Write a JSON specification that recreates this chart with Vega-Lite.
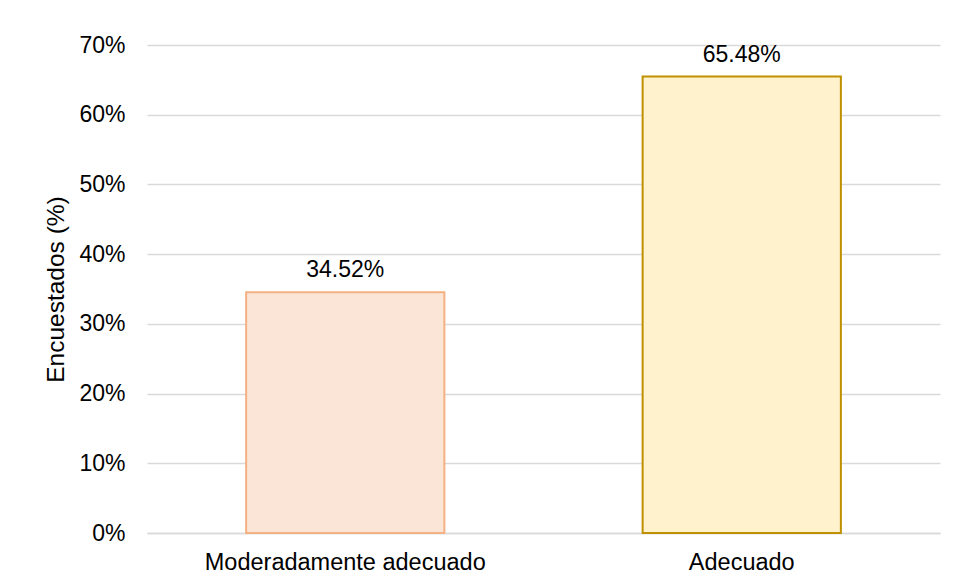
{
  "$schema": "https://vega.github.io/schema/vega-lite/v6.json",
  "autosize": {"type": "none"},
  "width": 793,
  "height": 488,
  "padding": {"left": 147, "top": 45, "right": 15, "bottom": 50},
  "background": "white",
  "config": {
    "font": "Liberation Sans",
    "view": {"stroke": null}
  },
  "data": {
    "values": [
      {"categoria": "Moderadamente adecuado", "valor": 0.3452, "fill": "#FBE5D6", "stroke": "#F4B183"},
      {"categoria": "Adecuado", "valor": 0.6548, "fill": "#FFF2CC", "stroke": "#BF9000"}
    ]
  },
  "encoding": {
    "x": {
      "field": "categoria",
      "type": "nominal",
      "sort": null,
      "scale": {"paddingInner": 0.5, "paddingOuter": 0.25},
      "axis": {
        "title": null,
        "labelAngle": 0,
        "labelFontSize": 23.5,
        "labelColor": "#000000",
        "labelPadding": 17,
        "labelLimit": 500,
        "ticks": false,
        "domainColor": "#D9D9D9",
        "domainWidth": 1.5
      }
    },
    "y": {
      "field": "valor",
      "type": "quantitative",
      "scale": {"domain": [0, 0.7], "nice": false},
      "axis": {
        "title": "Encuestados (%)",
        "titleFontSize": 24.5,
        "titleFontWeight": "normal",
        "titleColor": "#000000",
        "titlePadding": 10,
        "format": ".0%",
        "values": [0, 0.1, 0.2, 0.3, 0.4, 0.5, 0.6, 0.7],
        "labelFontSize": 23,
        "labelColor": "#000000",
        "labelPadding": 22,
        "ticks": false,
        "domain": false,
        "gridColor": "#D9D9D9",
        "gridWidth": 1.5
      }
    }
  },
  "layer": [
    {
      "mark": {"type": "bar", "strokeWidth": 2},
      "encoding": {
        "fill": {"field": "fill", "type": "nominal", "scale": null},
        "stroke": {"field": "stroke", "type": "nominal", "scale": null}
      }
    },
    {
      "mark": {"type": "text", "baseline": "alphabetic", "dy": -15, "fontSize": 23, "color": "#000000"},
      "encoding": {
        "text": {"field": "valor", "type": "quantitative", "format": ".2%"}
      }
    }
  ]
}
